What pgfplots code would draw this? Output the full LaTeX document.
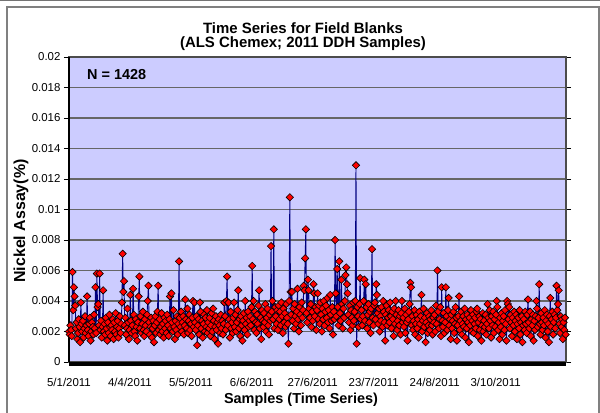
\documentclass[border=0pt]{standalone}
\usepackage{pgfplots}
\pgfplotsset{compat=1.18}
\usepackage{pgfplotstable}
\usepackage{fontspec}
\setmainfont{Liberation Sans}
\definecolor{bgc}{RGB}{204,204,255}
\definecolor{navyl}{RGB}{0,0,128}
\definecolor{mred}{RGB}{255,0,0}
\definecolor{frame}{RGB}{128,128,128}

% Nickel assay in units of 0.0001 %, one value per sample (every second sample of 1428)
\pgfplotstableread[row sep=\\, header=false]{
20\\18\\24\\21\\17\\59\\34\\49\\43\\37\\22\\26\\15\\19\\28\\23\\13\\39\\25\\20\\
27\\16\\22\\30\\19\\24\\43\\21\\17\\25\\29\\14\\20\\26\\23\\18\\31\\22\\49\\19\\
58\\36\\38\\24\\58\\21\\27\\16\\23\\47\\20\\25\\18\\29\\22\\14\\26\\19\\31\\23\\
17\\24\\21\\28\\15\\26\\20\\32\\18\\23\\27\\16\\22\\30\\19\\25\\39\\71\\46\\53\\
24\\29\\18\\22\\35\\26\\15\\21\\44\\27\\19\\24\\48\\31\\20\\17\\28\\23\\14\\26\\
43\\56\\22\\30\\19\\25\\33\\21\\17\\28\\24\\20\\31\\40\\50\\26\\18\\23\\29\\16\\
22\\27\\13\\24\\30\\19\\26\\33\\50\\21\\28\\18\\23\\32\\20\\25\\16\\29\\22\\27\\
19\\31\\24\\17\\28\\43\\22\\45\\26\\20\\34\\23\\15\\27\\21\\30\\18\\25\\66\\29\\
23\\33\\20\\26\\30\\18\\24\\41\\28\\22\\35\\19\\27\\31\\21\\25\\17\\29\\40\\23\\
39\\26\\21\\30\\11\\24\\28\\18\\39\\33\\22\\27\\16\\25\\31\\20\\29\\23\\34\\19\\
26\\22\\29\\17\\24\\32\\20\\35\\27\\15\\23\\30\\21\\26\\12\\28\\24\\19\\31\\22\\
27\\18\\25\\39\\30\\21\\40\\56\\24\\39\\28\\16\\33\\22\\26\\19\\29\\39\\23\\31\\
20\\26\\34\\47\\22\\28\\17\\30\\24\\14\\27\\32\\21\\40\\25\\29\\18\\33\\23\\27\\
30\\24\\36\\63\\28\\40\\21\\33\\26\\19\\31\\25\\37\\47\\22\\29\\15\\34\\27\\23\\
32\\26\\38\\20\\29\\35\\24\\18\\31\\27\\76\\33\\40\\28\\87\\22\\36\\30\\25\\34\\
21\\37\\28\\33\\24\\39\\30\\19\\35\\26\\32\\23\\38\\29\\25\\12\\40\\108\\46\\31\\
46\\27\\35\\22\\38\\30\\25\\33\\48\\28\\20\\36\\31\\24\\39\\29\\34\\50\\47\\68\\
87\\32\\26\\54\\47\\35\\29\\38\\23\\33\\27\\51\\45\\30\\36\\21\\34\\45\\28\\37\\
25\\39\\31\\20\\35\\28\\40\\24\\33\\37\\29\\42\\26\\34\\22\\44\\31\\27\\36\\18\\
33\\28\\80\\45\\30\\61\\36\\24\\66\\32\\27\\54\\38\\22\\35\\29\\40\\57\\62\\51\\
45\\31\\26\\37\\21\\34\\29\\24\\39\\27\\33\\40\\129\\12\\36\\30\\23\\38\\55\\28\\
34\\24\\30\\40\\54\\27\\51\\36\\22\\31\\38\\26\\33\\19\\35\\74\\29\\24\\37\\39\\
28\\51\\44\\32\\25\\35\\20\\30\\27\\36\\23\\40\\33\\26\\14\\31\\37\\24\\29\\34\\
26\\39\\30\\22\\33\\28\\17\\35\\25\\40\\31\\21\\27\\34\\24\\30\\18\\32\\40\\26\\
29\\23\\35\\19\\31\\26\\14\\28\\33\\38\\52\\49\\24\\30\\21\\27\\34\\18\\25\\31\\
22\\28\\16\\33\\25\\30\\44\\20\\27\\35\\23\\29\\13\\26\\32\\19\\24\\30\\21\\28\\
34\\24\\18\\29\\26\\31\\20\\37\\25\\60\\33\\22\\28\\36\\17\\49\\27\\23\\32\\19\\
26\\49\\30\\21\\34\\42\\24\\28\\15\\31\\22\\27\\33\\19\\25\\36\\29\\14\\24\\30\\
43\\21\\27\\33\\18\\25\\30\\23\\35\\16\\28\\22\\31\\26\\13\\29\\24\\34\\20\\27\\
31\\19\\25\\29\\22\\33\\35\\17\\26\\30\\21\\28\\14\\24\\32\\20\\27\\23\\31\\18\\
25\\38\\29\\22\\34\\27\\16\\30\\24\\33\\19\\28\\23\\31\\40\\36\\21\\26\\15\\29\\
23\\32\\18\\27\\30\\21\\34\\25\\14\\40\\38\\28\\36\\22\\31\\26\\17\\29\\24\\33\\
20\\27\\31\\15\\25\\29\\22\\34\\18\\26\\30\\13\\24\\28\\21\\33\\25\\19\\31\\41\\
26\\22\\33\\17\\28\\24\\31\\14\\27\\21\\30\\40\\35\\23\\29\\51\\25\\18\\32\\26\\
21\\29\\24\\34\\16\\27\\31\\20\\25\\13\\30\\42\\23\\28\\33\\18\\26\\31\\22\\29\\
50\\34\\38\\47\\25\\19\\30\\23\\28\\15\\26\\21\\29\\18\\
}\datatable

\begin{document}
\begin{tikzpicture}
\useasboundingbox (0,0) rectangle (600bp,413bp);
% outer chart frame
\fill[black!55] (0,411.5bp) rectangle (600bp,413bp);
\draw[frame, line width=2bp] (7bp,0) -- (7bp,406bp) -- (598.5bp,406bp) -- (598.5bp,0);

\begin{axis}[
  at={(69bp,51bp)}, anchor=south west,
  scale only axis, width=497bp, height=305bp,
  xmin=0, xmax=713.5, ymin=0, ymax=200,
  clip=false,
  axis background/.style={fill=bgc},
  axis line style={draw=black!70, line width=1.2bp},
  ytick={0,20,40,60,80,100,120,140,160,180,200},
  yticklabels={0,0.002,0.004,0.006,0.008,0.01,0.012,0.014,0.016,0.018,0.02},
  ymajorgrids, grid style={black!60, line width=1.4bp},
  xtick={0,87.5,175,262.5,350,437.5,525,612.5},
  xticklabels={5/1/2011,4/4/2011,5/5/2011,6/6/2011,27/6/2011,23/7/2011,24/8/2011,3/10/2011},
  xtick style={draw=none},
  ytick style={black, line width=0.8bp},
  tick align=outside, major tick length=5bp,
  tick label style={font=\fontsize{11.5}{13}\selectfont},
  xticklabel style={yshift=-8bp},
  /pgf/number format/assume math mode=true,
]
\draw[black, line width=1.8bp] (rel axis cs:0,0) -- (rel axis cs:0,1);
\fill[black] (rel axis cs:0,0) rectangle ([yshift=-4bp]rel axis cs:1,0);
\addplot[navyl, line width=0.9bp, mark=square*, mark size=2.6bp,
  mark options={rotate=45, fill=mred, draw=black, line width=0.6bp, solid}]
  table[x expr=\coordindex, y index=0] {\datatable};
\end{axis}

\node[font=\fontsize{15}{17}\selectfont\bfseries] at (303bp,384.5bp) {Time Series for Field Blanks};
\node[font=\fontsize{15}{17}\selectfont\bfseries] at (303bp,369.5bp) {(ALS Chemex; 2011 DDH Samples)};
\node[font=\fontsize{14.5}{16}\selectfont\bfseries, anchor=west, inner sep=0pt] at (87bp,338bp) {N = 1428};
\node[font=\fontsize{14.5}{16}\selectfont\bfseries] at (301bp,13bp) {Samples (Time Series)};
\node[font=\fontsize{16}{18}\selectfont\bfseries, rotate=90] at (21bp,192bp) {Nickel Assay(\%)};
\end{tikzpicture}
\end{document}
